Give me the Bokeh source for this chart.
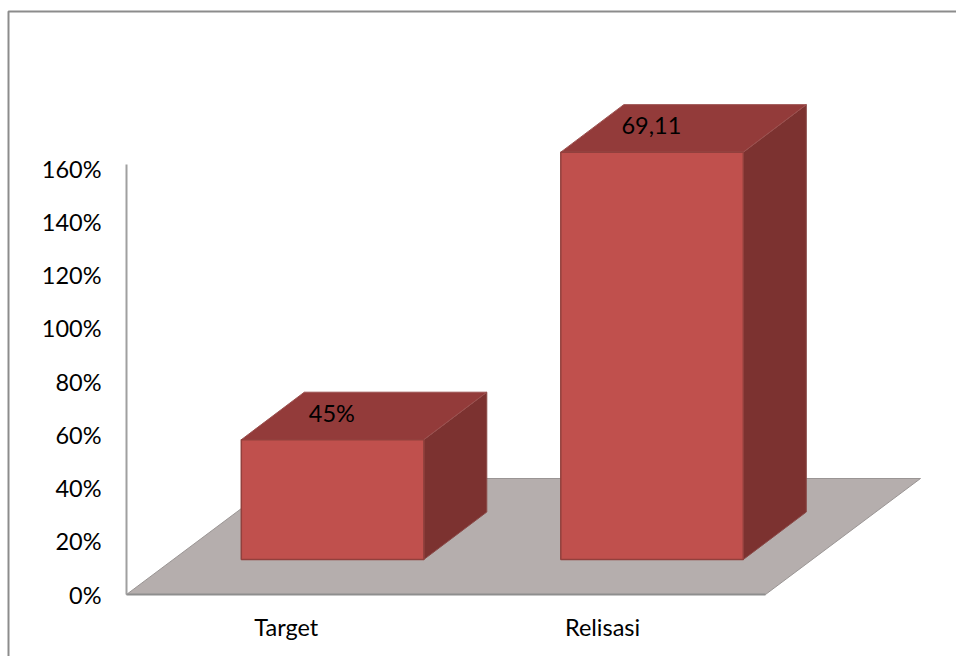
from bokeh.embed import file_html
from bokeh.models import BoxAnnotation, LinearAxis, Range1d, FixedTicker
from bokeh.plotting import figure
from bokeh.resources import INLINE
from bokeh.core.properties import value

# Chart content
categories = ["Target", "Relisasi"]
bar_heights = [45, 153]          # percent, as the bars stand against the axis
bar_labels = ["45%", "69,11"]    # printed labels; the second one is a raw figure, not the bar's height
y_ticks = [0, 20, 40, 60, 80, 100, 120, 140, 160]
category_ticks = [0.5, 1.49]

FONT = "Lato"
TEXT_SIZE = "23.5px"

# Scales: one x unit is one category slot, y is in percent
PX_X = 319.5
PX_Y = 2.6625
W, H = 956, 656
ORIGIN_X, ORIGIN_Y = 126, 594

# Oblique projection of the floor and the boxes (x units, percent units)
FLOOR_DX, FLOOR_DY = 155 / PX_X, 116 / PX_Y
INSET_DX, INSET_DY = 46.3 / PX_X, 35 / PX_Y
DEPTH_DX, DEPTH_DY = 63 / PX_X, 47.5 / PX_Y
BAR_W = 182.5 / PX_X

p = figure(
    width=W, height=H, output_backend="svg", toolbar_location=None,
    x_range=Range1d(-ORIGIN_X / PX_X, (W - ORIGIN_X) / PX_X),
    y_range=Range1d(-(H - ORIGIN_Y) / PX_Y, ORIGIN_Y / PX_Y),
    x_axis_type=None, y_axis_type=None, min_border=0,
)
p.outline_line_color = None
p.grid.visible = False
p.background_fill_color = "white"
p.border_fill_color = "white"

# Floor plane
p.patch([0, 2, 2 + FLOOR_DX, FLOOR_DX], [0, 0, FLOOR_DY, FLOOR_DY],
        fill_color="#B5AEAD", line_color="#9A9594", line_width=1)

# Boxes: side, top and front faces
for i, h in enumerate(bar_heights):
    x0 = i + 0.5 + INSET_DX - BAR_W / 2
    x1 = x0 + BAR_W
    y0 = INSET_DY
    y1 = y0 + h
    p.patch([x1, x1 + DEPTH_DX, x1 + DEPTH_DX, x1],
            [y0, y0 + DEPTH_DY, y1 + DEPTH_DY, y1],
            fill_color="#7C3230", line_color="#8A4A48", line_width=1)
    p.patch([x0, x1, x1 + DEPTH_DX, x0 + DEPTH_DX],
            [y1, y1, y1 + DEPTH_DY, y1 + DEPTH_DY],
            fill_color="#933B3A", line_color="#9C5250", line_width=1)
    p.patch([x0, x1, x1, x0], [y0, y0, y1, y1],
            fill_color="#C0504D", line_color="#92403D", line_width=1.5)
    p.text([i + 0.5 + INSET_DX - 0.002], [y1 + 10], text=[bar_labels[i]],
           text_font=value(FONT), text_font_size=TEXT_SIZE, text_color="#000000",
           text_align="center", text_baseline="middle")

# Value axis
y_axis = LinearAxis(
    fixed_location=0, bounds=(0, 161.5),
    ticker=FixedTicker(ticks=y_ticks),
    major_label_overrides={t: f"{t}%" for t in y_ticks},
    major_label_text_font=FONT, major_label_text_font_size=TEXT_SIZE,
    major_label_text_color="#000000", major_label_standoff=19,
    major_tick_line_color=None, minor_tick_line_color=None,
    axis_line_color="#A0A0A0", axis_line_width=2,
)
p.add_layout(y_axis, "left")

# Category axis
x_axis = LinearAxis(
    fixed_location=0, bounds=(0, 2),
    ticker=FixedTicker(ticks=category_ticks),
    major_label_overrides=dict(zip(category_ticks, categories)),
    major_label_text_font=FONT, major_label_text_font_size=TEXT_SIZE,
    major_label_text_color="#000000", major_label_standoff=12,
    major_tick_line_color=None, minor_tick_line_color=None,
    axis_line_color="#8E8E8E", axis_line_width=2,
)
p.add_layout(x_axis, "below")

# Chart-area border, running off the right and bottom of the page
p.add_layout(BoxAnnotation(
    left=8, right=W + 20, top=H - 11, bottom=-20,
    left_units="screen", right_units="screen", top_units="screen", bottom_units="screen",
    fill_color=None, fill_alpha=0, line_color="#8C8C8C", line_alpha=1, line_width=2,
))

open("out.html", "w").write(file_html(p, INLINE))
